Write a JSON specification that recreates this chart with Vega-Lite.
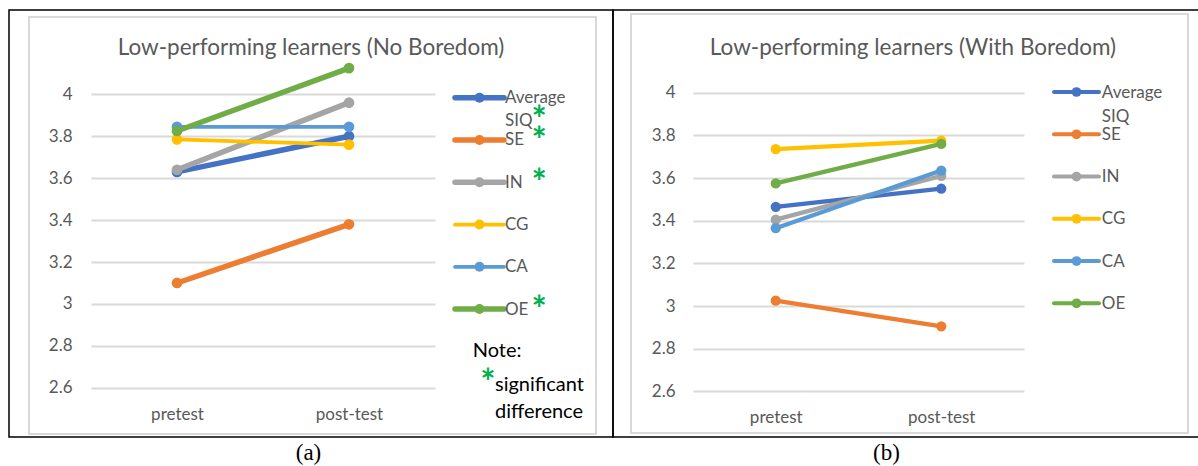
{
  "$schema": "https://vega.github.io/schema/vega-lite/v6.json",
  "background": "white",
  "padding": {"left": 8, "top": 9, "right": 0, "bottom": 0},
  "spacing": 0,
  "bounds": "flush",
  "config": {"font": "Lato", "view": {"stroke": "#000000", "strokeWidth": 1.5}},
  "resolve": {"scale": {"color": "independent", "strokeWidth": "independent"}},
  "datasets": {
    "left": [
      {"series": "Average SIQ", "test": "pretest", "score": 3.63, "sig": true},
      {"series": "Average SIQ", "test": "post-test", "score": 3.80, "sig": true},
      {"series": "SE", "test": "pretest", "score": 3.10, "sig": true},
      {"series": "SE", "test": "post-test", "score": 3.38, "sig": true},
      {"series": "IN", "test": "pretest", "score": 3.64, "sig": true},
      {"series": "IN", "test": "post-test", "score": 3.96, "sig": true},
      {"series": "CG", "test": "pretest", "score": 3.785, "sig": false},
      {"series": "CG", "test": "post-test", "score": 3.76, "sig": false},
      {"series": "CA", "test": "pretest", "score": 3.845, "sig": false},
      {"series": "CA", "test": "post-test", "score": 3.845, "sig": false},
      {"series": "OE", "test": "pretest", "score": 3.825, "sig": true},
      {"series": "OE", "test": "post-test", "score": 4.125, "sig": true}
    ],
    "right": [
      {"series": "Average SIQ", "test": "pretest", "score": 3.465, "sig": false},
      {"series": "Average SIQ", "test": "post-test", "score": 3.55, "sig": false},
      {"series": "SE", "test": "pretest", "score": 3.025, "sig": false},
      {"series": "SE", "test": "post-test", "score": 2.905, "sig": false},
      {"series": "IN", "test": "pretest", "score": 3.405, "sig": false},
      {"series": "IN", "test": "post-test", "score": 3.61, "sig": false},
      {"series": "CG", "test": "pretest", "score": 3.735, "sig": false},
      {"series": "CG", "test": "post-test", "score": 3.775, "sig": false},
      {"series": "CA", "test": "pretest", "score": 3.365, "sig": false},
      {"series": "CA", "test": "post-test", "score": 3.635, "sig": false},
      {"series": "OE", "test": "pretest", "score": 3.575, "sig": false},
      {"series": "OE", "test": "post-test", "score": 3.76, "sig": false}
    ],
    "note": [
      {"row": "note", "text": "Note:"},
      {"row": "sig", "text": "significant difference"}
    ]
  },
  "hconcat": [
    {
      "width": 604,
      "height": 427,
      "title": {"text": "Low-performing learners (No Boredom)", "frame": "group", "anchor": "middle", "offset": -60, "baseline": "middle", "font": "Lato", "fontSize": 22.5, "fontWeight": "normal", "color": "#595959"},
      "resolve": {"scale": {"x": "independent", "y": "independent"}},
      "layer": [
        {
          "data": {"name": "left"},
          "mark": {"type": "line", "strokeCap": "round", "point": {"filled": true, "size": 115, "opacity": 1}},
          "encoding": {
            "x": {"field": "test", "type": "nominal", "sort": ["pretest", "post-test"],
              "scale": {"type": "point", "range": [82, 426], "padding": 0.5},
              "axis": {"orient": "bottom", "offset": -33, "domain": false, "ticks": false, "labelAngle": 0, "labelFont": "Lato", "labelFontSize": 17, "labelColor": "#595959", "labelPadding": 2,
                "title": "(a)", "titleFont": "Liberation Serif", "titleFontSize": 23, "titleFontWeight": "normal", "titleColor": "#000000", "titlePadding": 19, "titleX": 299}},
            "y": {"field": "score", "type": "quantitative",
              "scale": {"domain": [2.6, 4], "range": [377.8, 84.3], "nice": false, "zero": false},
              "axis": {"orient": "left", "offset": -63, "values": [2.6, 2.8, 3, 3.2, 3.4, 3.6, 3.8, 4], "format": "~g", "domain": false, "ticks": false, "grid": true, "gridColor": "#d9d9d9", "gridWidth": 2, "labelFont": "Lato", "labelFontSize": 17, "labelColor": "#595959", "labelPadding": 0, "title": null}},
            "color": {"field": "series", "type": "nominal",
              "scale": {"domain": ["Average SIQ", "SE", "IN", "CG", "CA", "OE"], "range": ["#4472C4", "#ED7D31", "#A5A5A5", "#FFC000", "#5B9BD5", "#70AD47"]}, "legend": null},
            "strokeWidth": {"field": "sig", "type": "nominal", "scale": {"domain": [true, false], "range": [5.5, 3.75]}, "legend": null}
          }
        },
        {
          "layer": [
            {
              "data": {"name": "left"},
              "transform": [{"filter": "datum.test === 'pretest'"}],
              "mark": {"type": "rule", "strokeCap": "round"},
              "encoding": {
                "x": {"datum": 0, "type": "quantitative", "scale": {"domain": [0, 1], "range": [446, 495]}, "axis": null},
                "x2": {"datum": 1},
                "y": {"field": "series", "type": "nominal", "scale": {"type": "point", "domain": ["Average SIQ", "SE", "IN", "CG", "CA", "OE", "note", "sig"], "range": [87.7, 383.6], "padding": 0}, "axis": null},
                "color": {"field": "series", "type": "nominal", "legend": null},
                "strokeWidth": {"field": "sig", "type": "nominal", "legend": null}
              }
            },
            {
              "data": {"name": "left"},
              "transform": [{"filter": "datum.test === 'pretest'"}],
              "mark": {"type": "circle", "size": 100, "opacity": 1},
              "encoding": {
                "x": {"datum": 0.5, "type": "quantitative"},
                "y": {"field": "series", "type": "nominal"},
                "color": {"field": "series", "type": "nominal", "legend": null}
              }
            },
            {
              "data": {"name": "left"},
              "transform": [{"filter": "datum.test === 'pretest'"}],
              "mark": {"type": "text", "align": "left", "baseline": "top", "dx": 1, "dy": -7.5, "lineBreak": " ", "lineHeight": 23, "font": "Lato", "fontSize": 17, "color": "#595959"},
              "encoding": {
                "x": {"datum": 1, "type": "quantitative"},
                "y": {"field": "series", "type": "nominal"},
                "text": {"field": "series"}
              }
            },
            {
              "data": {"name": "left"},
              "transform": [{"filter": "datum.test === 'pretest' && datum.sig"}],
              "mark": {"type": "text", "align": "center", "baseline": "top", "dy": -15, "lineBreak": " ", "lineHeight": 21, "font": "Lato", "fontSize": 36, "fontWeight": "bold", "color": "#00B050"},
              "encoding": {
                "x": {"datum": 1.72, "type": "quantitative"},
                "y": {"field": "series", "type": "nominal"},
                "text": {"condition": {"test": "datum.series === 'Average SIQ'", "value": " *"}, "value": "*"}
              }
            },
            {
              "data": {"name": "note"},
              "transform": [{"filter": "datum.row === 'note'"}],
              "mark": {"type": "text", "align": "left", "baseline": "top", "dy": -10.8, "font": "Lato", "fontSize": 20, "color": "#000000"},
              "encoding": {
                "x": {"datum": 0.361, "type": "quantitative"},
                "y": {"field": "row", "type": "nominal"},
                "text": {"field": "text"}
              }
            },
            {
              "data": {"name": "note"},
              "transform": [{"filter": "datum.row === 'sig'"}],
              "mark": {"type": "text", "align": "left", "baseline": "top", "dy": -18.4, "lineBreak": " ", "lineHeight": 27, "font": "Lato", "fontSize": 20, "color": "#000000"},
              "encoding": {
                "x": {"datum": 0.816, "type": "quantitative"},
                "y": {"field": "row", "type": "nominal"},
                "text": {"field": "text"}
              }
            },
            {
              "data": {"name": "note"},
              "transform": [{"filter": "datum.row === 'sig'"}],
              "mark": {"type": "text", "align": "center", "baseline": "top", "dy": -26.5, "font": "Lato", "fontSize": 36, "fontWeight": "bold", "color": "#00B050"},
              "encoding": {
                "x": {"datum": 0.673, "type": "quantitative"},
                "y": {"field": "row", "type": "nominal"},
                "text": {"value": "*"}
              }
            }
          ]
        },
        {
          "data": {"values": [{}]},
          "mark": {"type": "rect", "filled": false, "stroke": "#d9d9d9", "strokeWidth": 2},
          "encoding": {
            "x": {"datum": 0, "type": "quantitative", "scale": {"domain": [0, 1], "range": [20, 587]}, "axis": null},
            "x2": {"datum": 1},
            "y": {"datum": 0, "type": "quantitative", "scale": {"domain": [0, 1], "range": [7, 424]}, "axis": null},
            "y2": {"datum": 1}
          }
        }
      ]
    },
    {
      "width": 590,
      "height": 427,
      "title": {"text": "Low-performing learners (With Boredom)", "frame": "group", "anchor": "middle", "offset": -60, "dx": 5, "baseline": "middle", "font": "Lato", "fontSize": 22.5, "fontWeight": "normal", "color": "#595959"},
      "resolve": {"scale": {"x": "independent", "y": "independent"}},
      "layer": [
        {
          "data": {"name": "right"},
          "mark": {"type": "line", "strokeCap": "round", "strokeWidth": 4.25, "point": {"filled": true, "size": 105, "opacity": 1}},
          "encoding": {
            "x": {"field": "test", "type": "nominal", "sort": ["pretest", "post-test"],
              "scale": {"type": "point", "range": [80, 411], "padding": 0.5},
              "axis": {"orient": "bottom", "offset": -30, "domain": false, "ticks": false, "labelAngle": 0, "labelFont": "Lato", "labelFontSize": 17, "labelColor": "#595959", "labelPadding": 2,
                "title": "(b)", "titleFont": "Liberation Serif", "titleFontSize": 23, "titleFontWeight": "normal", "titleColor": "#000000", "titlePadding": 16, "titleX": 273}},
            "y": {"field": "score", "type": "quantitative",
              "scale": {"domain": [2.6, 4], "range": [381.4, 82.7], "nice": false, "zero": false},
              "axis": {"orient": "left", "offset": -62, "values": [2.6, 2.8, 3, 3.2, 3.4, 3.6, 3.8, 4], "format": "~g", "domain": false, "ticks": false, "grid": true, "gridColor": "#d9d9d9", "gridWidth": 2, "labelFont": "Lato", "labelFontSize": 17, "labelColor": "#595959", "labelPadding": 0, "title": null}},
            "color": {"field": "series", "type": "nominal",
              "scale": {"domain": ["Average SIQ", "SE", "IN", "CG", "CA", "OE"], "range": ["#4472C4", "#ED7D31", "#A5A5A5", "#FFC000", "#5B9BD5", "#70AD47"]}, "legend": null}
          }
        },
        {
          "layer": [
            {
              "data": {"name": "right"},
              "transform": [{"filter": "datum.test === 'pretest'"}],
              "mark": {"type": "rule", "strokeCap": "round", "strokeWidth": 4},
              "encoding": {
                "x": {"datum": 0, "type": "quantitative", "scale": {"domain": [0, 1], "range": [441, 486]}, "axis": null},
                "x2": {"datum": 1},
                "y": {"field": "series", "type": "nominal", "scale": {"type": "point", "domain": ["Average SIQ", "SE", "IN", "CG", "CA", "OE"], "range": [82, 293.3], "padding": 0}, "axis": null},
                "color": {"field": "series", "type": "nominal", "legend": null}
              }
            },
            {
              "data": {"name": "right"},
              "transform": [{"filter": "datum.test === 'pretest'"}],
              "mark": {"type": "circle", "size": 95, "opacity": 1},
              "encoding": {
                "x": {"datum": 0.5, "type": "quantitative"},
                "y": {"field": "series", "type": "nominal"},
                "color": {"field": "series", "type": "nominal", "legend": null}
              }
            },
            {
              "data": {"name": "right"},
              "transform": [{"filter": "datum.test === 'pretest'"}],
              "mark": {"type": "text", "align": "left", "baseline": "top", "dx": 2.8, "dy": -7.5, "lineBreak": " ", "lineHeight": 24, "font": "Lato", "fontSize": 17, "color": "#595959"},
              "encoding": {
                "x": {"datum": 1, "type": "quantitative"},
                "y": {"field": "series", "type": "nominal"},
                "text": {"field": "series"}
              }
            }
          ]
        },
        {
          "data": {"values": [{}]},
          "mark": {"type": "rect", "filled": false, "stroke": "#d9d9d9", "strokeWidth": 2},
          "encoding": {
            "x": {"datum": 0, "type": "quantitative", "scale": {"domain": [0, 1], "range": [18, 575]}, "axis": null},
            "x2": {"datum": 1},
            "y": {"datum": 0, "type": "quantitative", "scale": {"domain": [0, 1], "range": [4, 423]}, "axis": null},
            "y2": {"datum": 1}
          }
        }
      ]
    }
  ]
}
